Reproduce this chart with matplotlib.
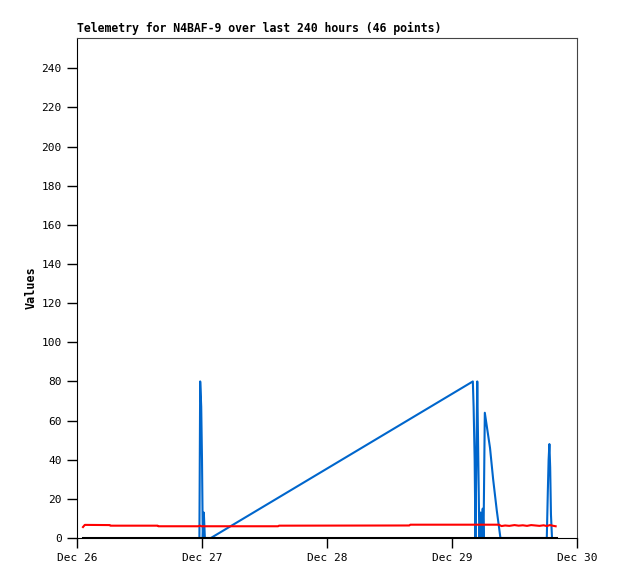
import matplotlib
matplotlib.use("Agg")
import matplotlib.pyplot as plt
import matplotlib.dates as mdates
import pandas as pd

# start of the time window
start = pd.Timestamp("2023-12-26 00:00")

# blue series: hours since start, value
blue_hours = [23.5, 23.65, 23.85, 24.0, 24.15, 24.35, 24.55, 25.7,
              76.0, 76.15, 76.35, 76.5, 76.85, 77.05, 77.25, 77.5, 77.7, 77.9, 78.05,
              78.3, 79.3, 79.9, 80.6, 81.2, 81.3,
              90.2, 90.4, 90.55, 90.7, 90.85, 91.0, 91.2]
blue_vals = [0, 80, 67, 40, 0, 13, 0, 0,
             80, 67, 40, 0, 80, 40, 0, 13, 0, 15, 0,
             64, 46, 30, 14, 2, 0,
             0, 24, 40, 48, 36, 12, 0]

# red series
red_hours = [1.15, 1.5, 6.3, 6.4, 15.5, 15.6, 23.3, 23.6, 23.9, 38.6, 38.8,
             63.8, 64.0, 81.0, 81.5, 82.2, 83.0, 84.0, 84.8, 85.6, 86.4,
             87.2, 88.0, 88.8, 89.6, 90.2, 90.8, 91.3, 91.9]
red_vals = [5.6, 6.7, 6.6, 6.3, 6.3, 6.0, 6.0, 6.3, 6.0, 6.0, 6.3,
            6.4, 6.8, 6.8, 6.1, 6.4, 6.2, 6.6, 6.3, 6.5, 6.2,
            6.6, 6.4, 6.2, 6.5, 6.1, 6.6, 6.3, 6.0]

# black series (flat zero)
black_hours = [1.15, 91.9]
black_vals = [0, 0]

blue_t = start + pd.to_timedelta(blue_hours, unit="h")
red_t = start + pd.to_timedelta(red_hours, unit="h")
black_t = start + pd.to_timedelta(black_hours, unit="h")

plt.rcParams['font.family'] = ['DejaVu Sans Mono']

fig = plt.figure(figsize=(6.18, 5.79), dpi=100)
ax = fig.add_axes([77/618, 41/579, 500/618, 500/579])

ax.plot(blue_t, blue_vals, color='#0066cc', linewidth=1.5, zorder=2)
ax.plot(red_t, red_vals, color='#ff0000', linewidth=1.5, zorder=3)
ax.plot(black_t, black_vals, color='black', linewidth=2.2, zorder=4)

ax.set_xlim(start, start + pd.Timedelta(days=4))
ax.set_ylim(0, 255.5)
ax.set_yticks(range(0, 241, 20))
ax.xaxis.set_major_locator(mdates.DayLocator())
ax.xaxis.set_major_formatter(mdates.DateFormatter('%b %d'))

ax.tick_params(direction='out', length=7, width=1, labelsize=8, pad=4)
for s in ['top', 'right']:
    ax.spines[s].set_color('#444444')
for s in ['left', 'bottom']:
    ax.spines[s].set_color('black')

ax.set_ylabel('Values', fontsize=8.5, fontweight='bold', labelpad=3)
ax.set_title('Telemetry for N4BAF-9 over last 240 hours (46 points)',
             loc='left', fontsize=8.3, fontweight='bold', pad=4)

fig.savefig('out.png', dpi=100)
